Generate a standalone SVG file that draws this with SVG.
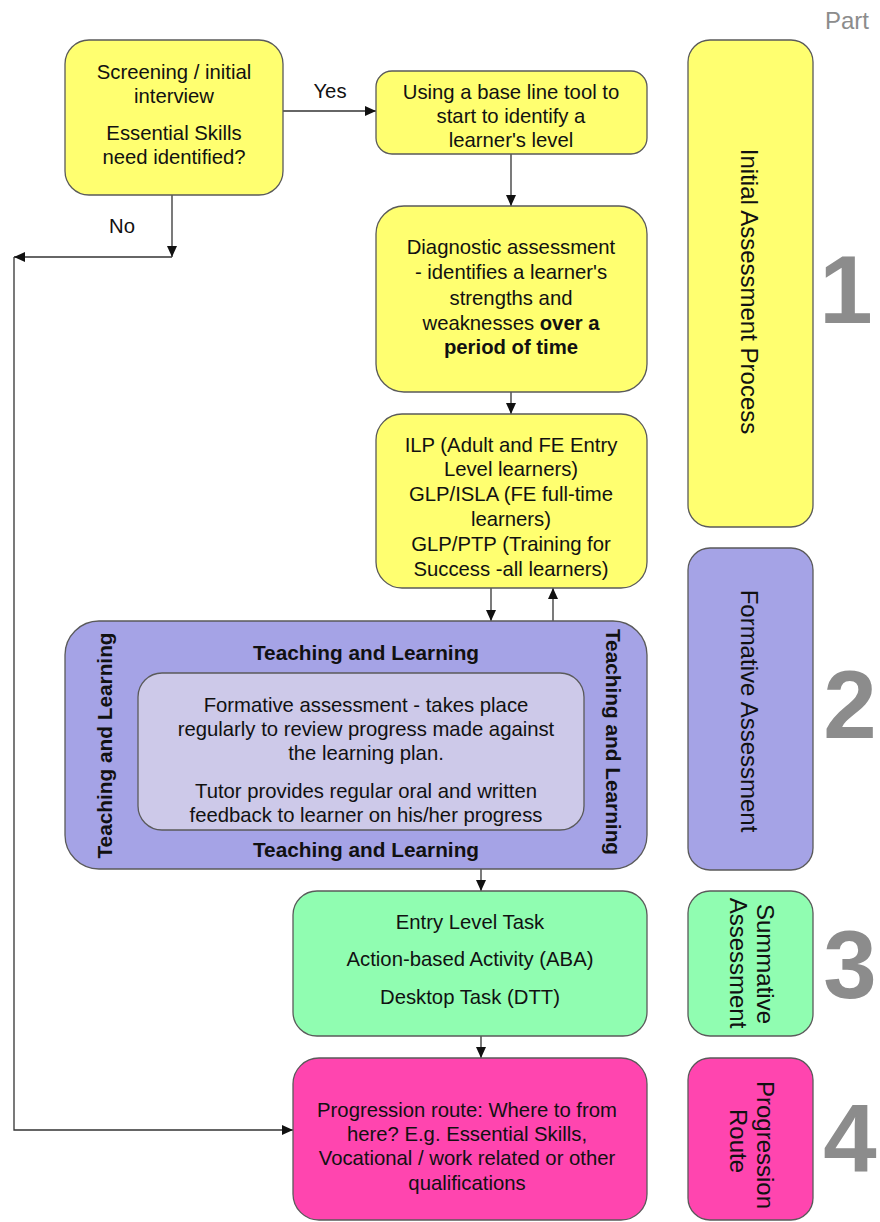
<svg xmlns="http://www.w3.org/2000/svg" width="880" height="1222" viewBox="0 0 880 1222">
<style>
  .box { stroke: #5a5a5a; stroke-width: 1.3; }
  .yellow { fill: #FFFF70; }
  .purple { fill: #A5A3E6; }
  .lav { fill: #CDC9E9; }
  .green { fill: #90FDB1; }
  .pink { fill: #FF45AF; }
  .t { font-family: "Liberation Sans", Arial, sans-serif; font-size: 20.3px; fill: #111; text-anchor: middle; }
  .b { font-weight: bold; }
  .tl { font-family: "Liberation Sans", Arial, sans-serif; font-size: 20.8px; font-weight: bold; fill: #111; text-anchor: middle; }
  .side { font-family: "Liberation Sans", Arial, sans-serif; font-size: 24px; fill: #111; text-anchor: middle; }
  .num { font-family: "Liberation Sans", Arial, sans-serif; font-size: 96px; font-weight: bold; fill: #8C8C8C; text-anchor: middle; }
  .conn { fill: none; stroke: #333; stroke-width: 1.3; }
</style>
<defs>
  <marker id="arr" markerUnits="userSpaceOnUse" markerWidth="12" markerHeight="12" refX="11" refY="5" orient="auto">
    <path d="M0,0 L11,5 L0,10 z" fill="#111"/>
  </marker>
</defs>

<text x="825" y="29" style="font-family:'Liberation Sans',Arial,sans-serif;font-size:24px;fill:#8C8C8C">Part</text>

<g id="connectors">
  <path class="conn" d="M283,111 H376" marker-end="url(#arr)"/>
  <path class="conn" d="M511,154 V206" marker-end="url(#arr)"/>
  <path class="conn" d="M172,195 V257" marker-end="url(#arr)"/>
  <path class="conn" d="M172,257 H14" marker-end="url(#arr)"/>
  <path class="conn" d="M14,257 V1130 H293" marker-end="url(#arr)"/>
  <path class="conn" d="M511,392 V414" marker-end="url(#arr)"/>
  <path class="conn" d="M491,588 V621" marker-end="url(#arr)"/>
  <path class="conn" d="M553,621 V588" marker-end="url(#arr)"/>
  <path class="conn" d="M481,869 V891" marker-end="url(#arr)"/>
  <path class="conn" d="M481,1036 V1058" marker-end="url(#arr)"/>
  <text class="t" x="330" y="98">Yes</text>
  <text class="t" x="122" y="233">No</text>
</g>

<g id="screening">
  <rect class="box yellow" x="65" y="40" width="218" height="155" rx="24"/>
  <text class="t" x="174" y="79">Screening / initial</text>
  <text class="t" x="174" y="103">interview</text>
  <text class="t" x="174" y="140">Essential Skills</text>
  <text class="t" x="174" y="164">need identified?</text>
</g>

<g id="baseline">
  <rect class="box yellow" x="376" y="71" width="271" height="83" rx="16"/>
  <text class="t" x="511" y="99">Using a base line tool to</text>
  <text class="t" x="511" y="123">start to identify a</text>
  <text class="t" x="511" y="147">learner's level</text>
</g>

<g id="diagnostic">
  <rect class="box yellow" x="376" y="206" width="271" height="186" rx="28"/>
  <text class="t" x="511" y="254">Diagnostic assessment</text>
  <text class="t" x="511" y="279">- identifies a learner's</text>
  <text class="t" x="511" y="305">strengths and</text>
  <text class="t" x="511" y="330">weaknesses <tspan class="b">over a</tspan></text>
  <text class="t b" x="511" y="354">period of time</text>
</g>

<g id="ilp">
  <rect class="box yellow" x="376" y="414" width="271" height="174" rx="26"/>
  <text class="t" x="511" y="452">ILP (Adult and FE Entry</text>
  <text class="t" x="511" y="476">Level learners)</text>
  <text class="t" x="511" y="501">GLP/ISLA (FE full-time</text>
  <text class="t" x="511" y="526">learners)</text>
  <text class="t" x="511" y="551">GLP/PTP (Training for</text>
  <text class="t" x="511" y="576">Success -all learners)</text>
</g>

<g id="teaching">
  <rect class="box purple" x="65" y="621" width="582" height="248" rx="34"/>
  <text class="tl" x="366" y="660">Teaching and Learning</text>
  <text class="tl" x="366" y="857">Teaching and Learning</text>
  <text class="tl" transform="translate(112,745.5) rotate(-90)">Teaching and Learning</text>
  <text class="tl" transform="translate(606,742) rotate(90)">Teaching and Learning</text>
</g>

<g id="formative">
  <rect class="box lav" x="138" y="673" width="446" height="157" rx="24"/>
  <text class="t" x="366" y="712">Formative assessment - takes place</text>
  <text class="t" x="366" y="736">regularly to review progress made against</text>
  <text class="t" x="366" y="760">the learning plan.</text>
  <text class="t" x="366" y="798">Tutor provides regular oral and written</text>
  <text class="t" x="366" y="822">feedback to learner on his/her progress</text>
</g>

<g id="summative">
  <rect class="box green" x="293" y="891" width="354" height="145" rx="24"/>
  <text class="t" x="470" y="929">Entry Level Task</text>
  <text class="t" x="470" y="966">Action-based Activity (ABA)</text>
  <text class="t" x="470" y="1004">Desktop Task (DTT)</text>
</g>

<g id="progression">
  <rect class="box pink" x="293" y="1058" width="354" height="162" rx="26"/>
  <text class="t" x="467" y="1117">Progression route: Where to from</text>
  <text class="t" x="467" y="1141">here? E.g. Essential Skills,</text>
  <text class="t" x="467" y="1165">Vocational / work related or other</text>
  <text class="t" x="467" y="1190">qualifications</text>
</g>

<g id="part1">
  <rect class="box yellow" x="688" y="40" width="125" height="487" rx="22"/>
  <text class="side" transform="translate(741,291.5) rotate(90)">Initial Assessment Process</text>
  <text class="num" x="846" y="323">1</text>
</g>

<g id="part2">
  <rect class="box purple" x="688" y="548" width="125" height="322" rx="22"/>
  <text class="side" transform="translate(741,711) rotate(90)">Formative Assessment</text>
  <text class="num" x="850" y="738">2</text>
</g>

<g id="part3">
  <rect class="box green" x="688" y="891" width="125" height="145" rx="22"/>
  <text class="side" transform="translate(757,964) rotate(90)">Summative</text>
  <text class="side" transform="translate(730,963) rotate(90)">Assessment</text>
  <text class="num" x="850" y="998">3</text>
</g>

<g id="part4">
  <rect class="box pink" x="688" y="1058" width="125" height="162" rx="22"/>
  <text class="side" transform="translate(757,1145) rotate(90)">Progression</text>
  <text class="side" transform="translate(730,1141) rotate(90)">Route</text>
  <text class="num" x="850" y="1172">4</text>
</g>
</svg>
